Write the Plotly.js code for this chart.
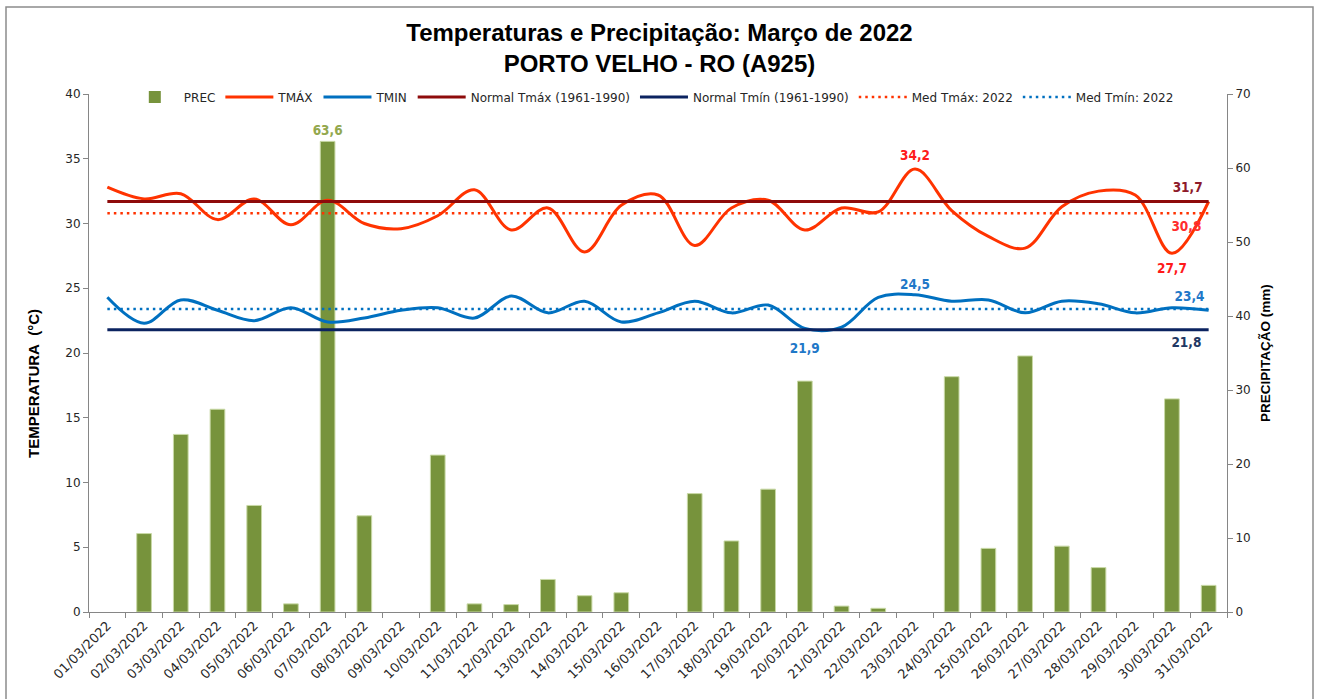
<!DOCTYPE html>
<html>
<head>
<meta charset="utf-8">
<script src="https://cdn.plot.ly/plotly-3.0.1.min.js"></script>
<style>
  html, body { margin: 0; padding: 0; background: #ffffff; }
  #chart { width: 1319px; height: 699px; }
</style>
</head>
<body>
<div id="chart"></div>
<script>
// ---- Data ----
const days = ['01/03/2022','02/03/2022','03/03/2022','04/03/2022','05/03/2022','06/03/2022','07/03/2022','08/03/2022','09/03/2022','10/03/2022',
              '11/03/2022','12/03/2022','13/03/2022','14/03/2022','15/03/2022','16/03/2022','17/03/2022','18/03/2022','19/03/2022','20/03/2022',
              '21/03/2022','22/03/2022','23/03/2022','24/03/2022','25/03/2022','26/03/2022','27/03/2022','28/03/2022','29/03/2022','30/03/2022','31/03/2022'];
const prec = [0, 10.6, 24.0, 27.4, 14.4, 1.1, 63.6, 13.0, 0, 21.2,
              1.1, 1.0, 4.4, 2.2, 2.6, 0, 16.0, 9.6, 16.6, 31.2,
              0.8, 0.5, 0, 31.8, 8.6, 34.6, 8.9, 6.0, 0, 28.8, 3.6];
const tmax = [32.8, 31.9, 32.3, 30.3, 31.9, 29.9, 31.8, 30.0, 29.6, 30.6,
              32.6, 29.5, 31.2, 27.8, 31.4, 32.2, 28.3, 31.2, 31.8, 29.5,
              31.2, 30.9, 34.2, 31.0, 29.0, 28.1, 31.3, 32.5, 32.2, 27.7, 31.7];
const tmin = [24.3, 22.3, 24.1, 23.3, 22.5, 23.5, 22.4, 22.7, 23.3, 23.5,
              22.7, 24.4, 23.1, 24.0, 22.4, 23.1, 24.0, 23.1, 23.7, 21.9,
              22.0, 24.3, 24.5, 24.0, 24.1, 23.1, 24.0, 23.8, 23.1, 23.5, 23.3];
const normalTmax = days.map(() => 31.7);
const normalTmin = days.map(() => 21.8);
const medTmax = days.map(() => 30.8);
const medTmin = days.map(() => 23.4);

// which points carry a data label: [position, extra offset size]
const precLabels = {6: ['outside', 0]};
const tmaxLabels = {22: ['top center', 8], 29: ['bottom center', 13]};
const tminLabels = {19: ['bottom center', 22], 22: ['top center', 2]};
const normTmaxLabels = {30: ['top left', 8]};
const normTminLabels = {30: ['bottom left', 10]};
const medTmaxLabels = {30: ['bottom left', 10]};
const medTminLabels = {30: ['top left', 5]};

const fmt = v => v.toFixed(1).replace('.', ',');
const labelText = (vals, map) => vals.map((v, i) => (i in map) ? fmt(v) : '');
const labelPos = (vals, map) => vals.map((v, i) => (i in map) ? map[i][0] : 'top center');
const labelGap = (vals, map) => vals.map((v, i) => (i in map) ? map[i][1] : 0);

const labelFont = (color) => ({family: 'DejaVu Sans Condensed, DejaVu Sans, sans-serif', size: 13.5, color: color, weight: 'bold'});

function lineTrace(name, vals, map, lineStyle, textColor) {
  return {
    type: 'scatter', mode: 'lines+markers+text', name: name, x: days, y: vals, yaxis: 'y2',
    line: lineStyle,
    marker: {size: labelGap(vals, map), color: 'rgba(0,0,0,0)', opacity: 0, line: {width: 0}},
    text: labelText(vals, map), textposition: labelPos(vals, map),
    textfont: labelFont(textColor), cliponaxis: false, hoverinfo: 'skip'
  };
}

const traces = [
  {
    type: 'bar', name: 'PREC', x: days, y: prec, yaxis: 'y',
    marker: {color: '#77933C', line: {color: '#C9D9A6', width: prec.map(v => v > 0 ? 1 : 0)}},
    width: 0.4,
    text: labelText(prec, precLabels), textposition: 'outside', constraintext: 'none', cliponaxis: false,
    textfont: labelFont('#93A84E'),
    hoverinfo: 'skip'
  },
  lineTrace('TMÁX', tmax, tmaxLabels, {color: '#FF3300', width: 3, shape: 'spline', smoothing: 1}, '#FF1A1A'),
  lineTrace('TMIN', tmin, tminLabels, {color: '#0070C0', width: 3, shape: 'spline', smoothing: 1}, '#1F78C8'),
  lineTrace('Normal Tmáx (1961-1990)', normalTmax, normTmaxLabels, {color: '#8E0B0B', width: 3}, '#8E1A2A'),
  lineTrace('Normal Tmín (1961-1990)', normalTmin, normTminLabels, {color: '#0B2360', width: 3}, '#1F3864'),
  lineTrace('Med Tmáx: 2022', medTmax, medTmaxLabels, {color: '#FF3300', width: 2.5, dash: '2.5px,4px'}, '#FF2D2D'),
  lineTrace('Med Tmín: 2022', medTmin, medTminLabels, {color: '#0070C0', width: 2.5, dash: '2.5px,4px'}, '#1F78C8')
];

const axisGray = '#868686';
const tickFont = {family: 'DejaVu Sans, Verdana, sans-serif', size: 12, color: '#262626'};
const titleFont = {family: 'Liberation Sans, Arial, sans-serif', size: 15, color: '#000000', weight: 'bold'};

const layout = {
  width: 1319, height: 699,
  margin: {l: 89, r: 92, t: 94, b: 87},
  paper_bgcolor: '#ffffff', plot_bgcolor: '#ffffff',
  showlegend: true,
  title: {
    text: '<b>Temperaturas e Precipitação: Março de 2022<br>PORTO VELHO - RO (A925)</b>',
    font: {family: 'Liberation Sans, Arial, sans-serif', size: 24, color: '#000000'},
    x: 0.5, xref: 'container', xanchor: 'center',
    y: 1 - 41/699, yref: 'container', yanchor: 'top'
  },
  legend: {
    orientation: 'h', x: 0.495, xanchor: 'center', y: 0.994, yanchor: 'middle',
    font: {family: 'DejaVu Sans, Verdana, sans-serif', size: 12, color: '#262626'},
    bgcolor: 'rgba(0,0,0,0)', traceorder: 'normal', itemwidth: 48
  },
  xaxis: {
    type: 'category', range: [-0.5, 30.5], tickangle: -45,
    tickson: 'boundaries', ticks: 'outside', ticklen: 5, tickcolor: axisGray,
    showline: true, linecolor: axisGray, linewidth: 1,
    showgrid: false, zeroline: false, tickfont: Object.assign({}, tickFont, {size: 13}), fixedrange: true
  },
  yaxis: {
    side: 'right', range: [0, 70], dtick: 10, ticks: 'outside', ticklen: 5, tickcolor: axisGray,
    showline: true, linecolor: axisGray, linewidth: 1, showgrid: false, zeroline: false,
    tickfont: tickFont, fixedrange: true,
    title: {text: 'PRECIPITAÇÃO (mm)', font: Object.assign({}, titleFont, {size: 13.5}), standoff: 10}
  },
  yaxis2: {
    overlaying: 'y', side: 'left', range: [0, 40], dtick: 5, ticks: 'outside', ticklen: 5, tickcolor: axisGray,
    showline: true, linecolor: axisGray, linewidth: 1, showgrid: false, zeroline: false,
    tickfont: tickFont, fixedrange: true
  },
  annotations: [{
    text: 'TEMPERATURA\u00a0\u00a0(°C)', textangle: -90, showarrow: false,
    xref: 'paper', yref: 'paper', x: (33 - 89) / 1138, y: (612 - 384) / 518,
    xanchor: 'center', yanchor: 'middle', font: titleFont
  }],
  shapes: [{
    type: 'rect', xref: 'paper', yref: 'paper',
    x0: (6 - 89) / 1138, x1: (1313 - 89) / 1138,
    y0: (612 - 705) / 518, y1: (612 - 7) / 518,
    line: {color: '#8C8C8C', width: 1.5}, fillcolor: 'rgba(0,0,0,0)', layer: 'below'
  }],
  bargap: 0.6
};

Plotly.newPlot('chart', traces, layout, {displayModeBar: false, staticPlot: true});
</script>
</body>
</html>
